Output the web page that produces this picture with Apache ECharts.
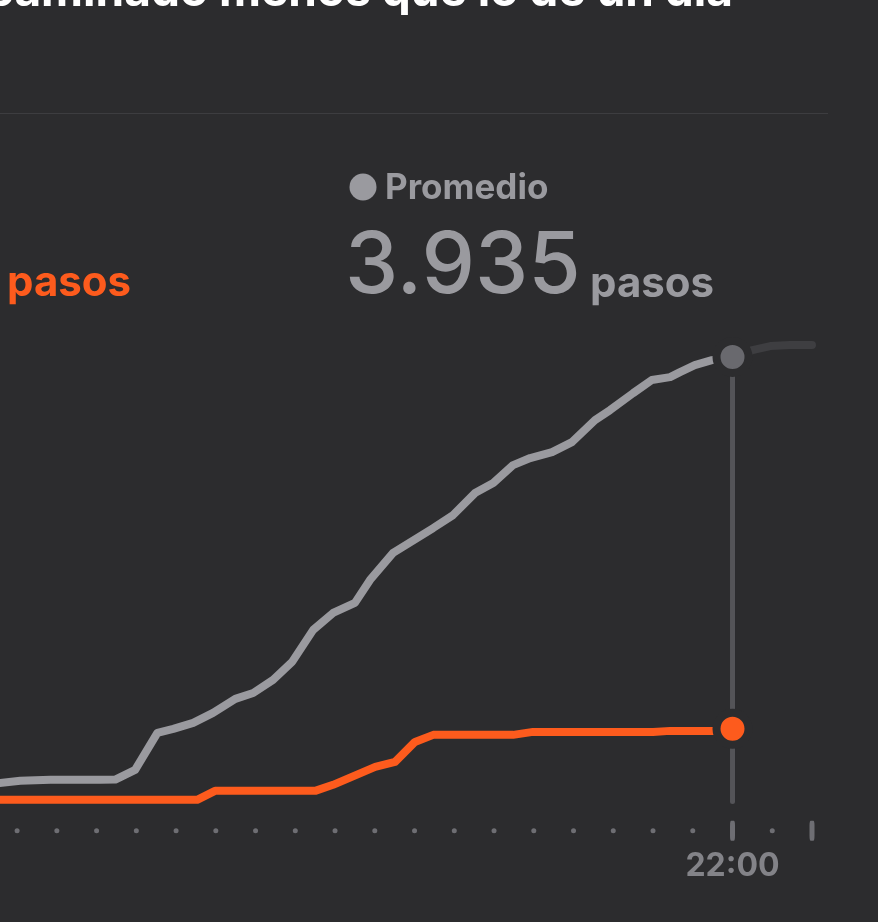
<!DOCTYPE html>
<html>
<head>
<meta charset="utf-8">
<script src="https://cdn.jsdelivr.net/npm/echarts@6/dist/echarts.min.js"></script>
<style>
  html, body { margin: 0; padding: 0; background: #2c2c2e; }
  #chart { width: 878px; height: 922px; }
</style>
</head>
<body>
<div id="chart"></div>
<script>
// pasos acumulados por hora del dia
var avgHours = [3.5, 4.08, 4.84, 6.09, 6.47, 6.97, 7.53, 7.93, 8.43, 8.93, 9.49, 9.94, 10.44, 10.92, 11.45, 11.95, 12.5, 12.88, 13.46, 14.47, 14.97, 15.52, 15.98, 16.48, 16.91, 17.46, 17.96, 18.54, 18.92, 19.5, 19.97, 20.43, 20.68, 21.05, 21.48, 22];
var avgSteps = [190, 211, 220, 220, 222, 307, 632, 667, 720, 808, 931, 983, 1098, 1256, 1537, 1686, 1774, 1976, 2213, 2432, 2546, 2739, 2827, 2985, 3047, 3099, 3187, 3380, 3468, 3617, 3732, 3758, 3802, 3863, 3907, 3935];
var restHours = [22, 22.5, 22.95, 23.45, 24];
var restSteps = [3935, 3995, 4030, 4039, 4040];
var todayHours = [3.5, 8.53, 8.98, 11.5, 11.95, 13.01, 13.51, 14.01, 14.47, 16.48, 16.98, 20.0, 20.43, 21.51, 22];
var todaySteps = [44, 44, 123, 123, 176, 334, 378, 553, 615, 615, 641, 641, 650, 650, 668];
var minorTicks = [4, 5, 6, 7, 8, 9, 10, 11, 12, 13, 14, 15, 16, 17, 18, 19, 20, 21, 23];
var majorTicks = [22, 24];
var nowHour = 22;
var nowLabel = '22:00';
var avgTotal = '3.935';

var BG = '#2c2c2e';
var GRAY = '#9a9a9f';
var ORANGE = '#fd5b1d';
var TICK_Y = -228;
var LABEL_Y = -536;

function pairs(xs, ys) {
    return xs.map(function (x, i) { return [x, ys[i]]; });
}

var chart = echarts.init(document.getElementById('chart'));
var font = 'Inter, "Noto Sans", sans-serif';

chart.setOption({
    backgroundColor: BG,
    animation: false,
    grid: {left: 0, right: 66, top: 304, bottom: 42},
    xAxis: {type: 'value', min: 3.57, max: 24, show: false},
    yAxis: {type: 'value', min: -660, max: 4400, show: false},
    graphic: [
        {type: 'text', x: 733, y: -8, z: 10, style: {
            text: 'Has caminado menos que lo de un día', fill: '#ffffff',
            font: 'bold 46px ' + font, textAlign: 'right', verticalAlign: 'middle'}},
        {type: 'line', shape: {x1: 0, y1: 113.5, x2: 828, y2: 113.5},
            style: {stroke: '#3d3d40', lineWidth: 1}},
        {type: 'circle', shape: {cx: 363, cy: 187, r: 13.5}, style: {fill: GRAY}},
        {type: 'text', x: 385, y: 188, style: {
            text: 'Promedio', fill: GRAY, font: 'bold 35px ' + font, verticalAlign: 'middle'}},
        {type: 'text', x: 345, y: 267, style: {
            text: avgTotal, fill: GRAY, font: '500 85px ' + font, verticalAlign: 'middle'}},
        {type: 'text', x: 590, y: 284, style: {
            text: 'pasos', fill: GRAY, font: 'bold 42px ' + font, verticalAlign: 'middle'}},
        {type: 'text', x: 7, y: 283, style: {
            text: 'pasos', fill: ORANGE, font: 'bold 42px ' + font, verticalAlign: 'middle'}}
    ],
    series: [
        {
            type: 'line', z: 1, symbol: 'none', silent: true,
            data: [[nowHour, avgSteps[avgSteps.length - 1]], [nowHour, 30]],
            lineStyle: {color: '#545458', width: 5, cap: 'round'}
        },
        {
            type: 'line', z: 2, symbol: 'none', clip: false,
            data: pairs(restHours, restSteps),
            lineStyle: {color: '#3e3e41', width: 8, cap: 'round', join: 'round'}
        },
        {
            type: 'line', z: 2, symbol: 'none',
            data: pairs(avgHours, avgSteps),
            lineStyle: {color: GRAY, width: 8, cap: 'round', join: 'round'}
        },
        {
            type: 'line', z: 2, symbol: 'none',
            data: pairs(todayHours, todaySteps),
            lineStyle: {color: ORANGE, width: 8, cap: 'round', join: 'round'}
        },
        {
            type: 'scatter', z: 3, symbolSize: 32,
            data: [[nowHour, avgSteps[avgSteps.length - 1]]],
            itemStyle: {color: '#69696e', borderColor: BG, borderWidth: 8, opacity: 1}
        },
        {
            type: 'scatter', z: 3, symbolSize: 32,
            data: [[nowHour, todaySteps[todaySteps.length - 1]]],
            itemStyle: {color: ORANGE, borderColor: BG, borderWidth: 8, opacity: 1}
        },
        {
            type: 'scatter', z: 1, symbolSize: 5, clip: false,
            data: minorTicks.map(function (h) { return [h, TICK_Y]; }),
            itemStyle: {color: '#6e6e73', opacity: 1}
        },
        {
            type: 'scatter', z: 1, symbol: 'roundRect', symbolSize: [5, 20], clip: false,
            data: majorTicks.map(function (h) { return [h, TICK_Y]; }),
            itemStyle: {color: '#6e6e73', opacity: 1}
        },
        {
            type: 'scatter', z: 1, symbolSize: 0,
            data: [[nowHour, LABEL_Y]],
            label: {show: true, position: 'inside', formatter: nowLabel,
                color: GRAY, fontSize: 32, fontWeight: 'bold', fontFamily: font}
        }
    ]
});
</script>
</body>
</html>
